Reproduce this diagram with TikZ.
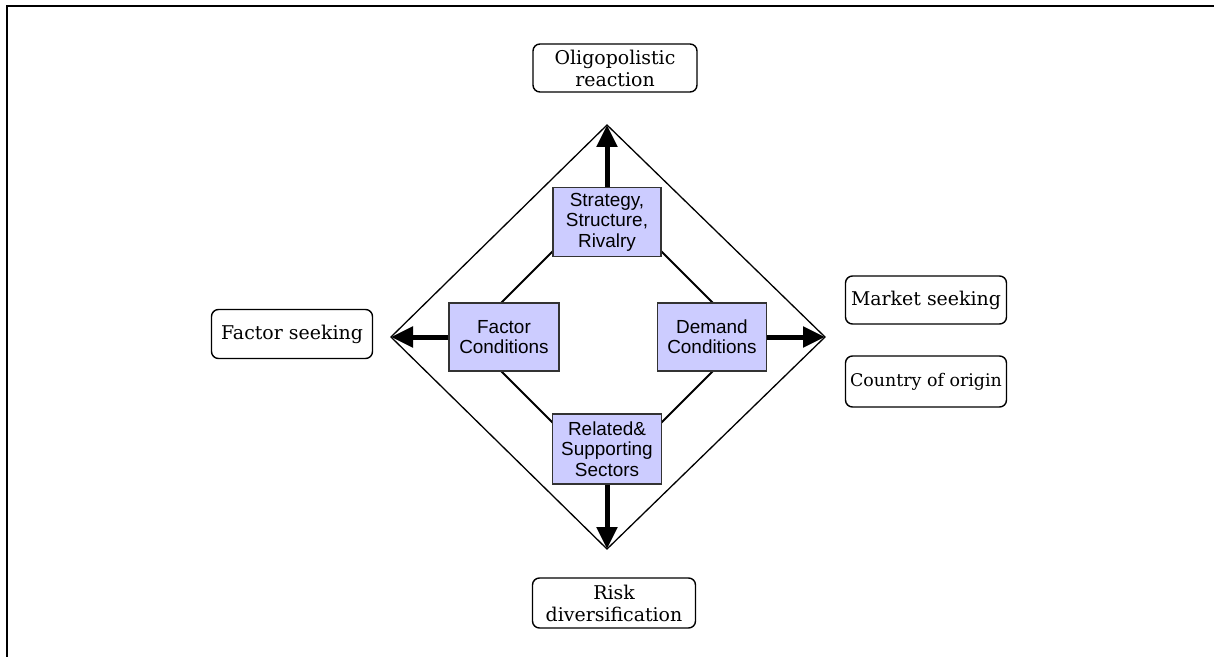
\documentclass[tikz,border=0pt]{standalone}
\usepackage{fontspec}
\setmainfont{Liberation Sans}
\newfontfamily\labfont{DejaVu Serif}
\usetikzlibrary{arrows.meta}
\definecolor{boxfill}{HTML}{CCCCFF}
\definecolor{boxline}{HTML}{333333}
\tikzset{
  factorbox/.style={draw=boxline, line width=1.5bp, fill=boxfill, align=center,
    inner sep=0pt, font=\fontsize{19}{20.5}\selectfont},
  labelbox/.style={draw=black, line width=1.4bp, fill=white, rounded corners=7bp,
    align=center, inner sep=0pt, font=\labfont\fontsize{19}{22}\selectfont},
  outerline/.style={line width=1.3bp, draw=black},
  innerline/.style={line width=2bp, draw=black},
  bigarrow/.style={line width=5bp, -{Triangle[length=22bp,width=20bp]}, shorten >=0bp},
  frameline/.style={line width=2bp, draw=black}
}
\begin{document}
\begin{tikzpicture}[x=1bp, y=-1bp]
\useasboundingbox (0,0) rectangle (1214,657);
% frame
\coordinate (fa) at (7,657);
\coordinate (fb) at (7,6);
\coordinate (fc) at (1214,6);
\draw[frameline] (fa) -- (fb) -- (fc);
% outer diamond
\coordinate (T) at (607,125);
\coordinate (R) at (825,337);
\coordinate (B) at (607,549);
\coordinate (L) at (391,337);
\draw[outerline] (T) -- (R) -- (B) -- (L) -- cycle;
% inner diamond
\coordinate (iT) at (607,197);
\coordinate (iR) at (747,337);
\coordinate (iB) at (607,477);
\coordinate (iL) at (467,337);
\draw[innerline] (iT) -- (iR) -- (iB) -- (iL) -- cycle;
% factor boxes
\node[factorbox, minimum width=108bp, minimum height=69bp] (strat) at (607,222) {Strategy,\\Structure,\\Rivalry};
\node[factorbox, minimum width=110bp, minimum height=68bp] (fact) at (504,337) {Factor\\Conditions};
\node[factorbox, minimum width=109bp, minimum height=68bp] (dem) at (712,337) {Demand\\Conditions};
\node[factorbox, minimum width=109bp, minimum height=70bp] (rel) at (607,449) {Related\&\\Supporting\\Sectors};
% arrows
\draw[bigarrow] (strat.north) -- (T);
\draw[bigarrow] (fact.west) -- (L);
\draw[bigarrow] (dem.east) -- (R);
\draw[bigarrow] (rel.south) -- (B);
% labels
\node[labelbox, minimum width=164bp, minimum height=48bp] (olig) at (615,68) {Oligopolistic\\reaction};
\node[labelbox, minimum width=161bp, minimum height=49bp] (fseek) at (292,334) {Factor seeking};
\node[labelbox, minimum width=161bp, minimum height=48bp] (mseek) at (926,300) {Market seeking};
\node[labelbox, minimum width=161bp, minimum height=51bp, font=\labfont\fontsize{17.5}{22}\selectfont] (coo) at (926,381.5) {Country of origin};
\node[labelbox, minimum width=163bp, minimum height=50bp] (risk) at (614,603) {Risk\\diversification};
\end{tikzpicture}
\end{document}
